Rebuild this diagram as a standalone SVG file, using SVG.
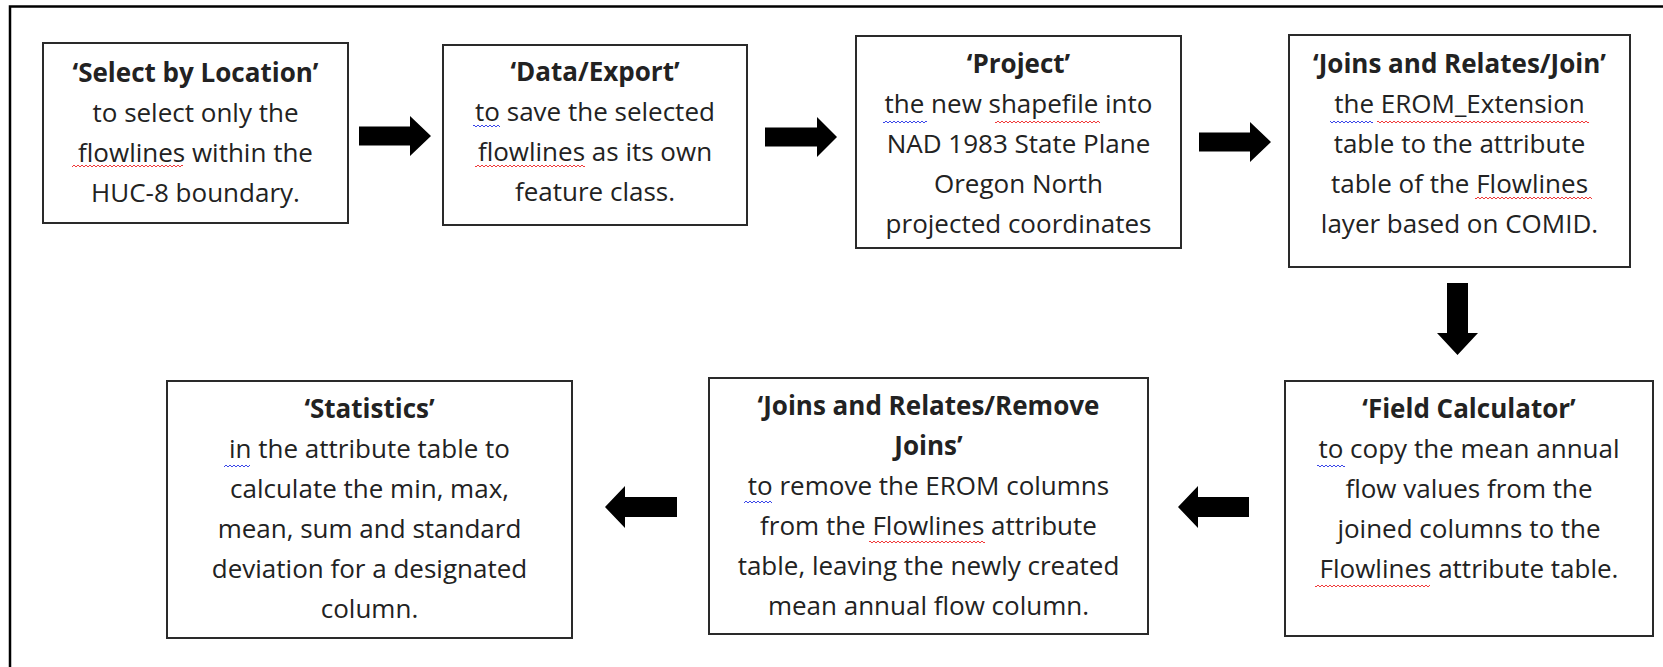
<svg xmlns="http://www.w3.org/2000/svg" width="1663" height="667" viewBox="0 0 1663 667">
<style>
.box{fill:#fff;stroke:#2a2a2a;stroke-width:2}
.t{font-family:"Open Sans","Liberation Sans",sans-serif;font-size:26px;fill:#222;text-anchor:middle}
.b{font-weight:bold}
.arr{fill:#000}
</style>
<defs>
<pattern id="red" width="4" height="4" patternUnits="userSpaceOnUse"><path d="M0,3 L2,1 L4,3" fill="none" stroke="#f03a3a" stroke-width="1"/></pattern>
<pattern id="blue" width="4" height="4" patternUnits="userSpaceOnUse"><path d="M0,3 L2,1 L4,3" fill="none" stroke="#3a46e8" stroke-width="1"/></pattern>
</defs>
<rect width="1663" height="667" fill="#fff"/>
<path d="M10,667 V6.5 H1663" fill="none" stroke="#000" stroke-width="2.5"/>

<g id="connectors">
<polygon class="arr" points="359,126.5 410,126.5 410,116 431,136 410,156 410,145.5 359,145.5"/>
<polygon class="arr" points="765,127.5 817,127.5 817,117 837,137 817,157 817,146.5 765,146.5"/>
<polygon class="arr" points="1199,132.5 1250,132.5 1250,122 1271,142 1250,162 1250,151.5 1199,151.5"/>
<polygon class="arr" points="1447,283 1468,283 1468,333 1478,333 1457.5,355 1437,333 1447,333"/>
<polygon class="arr" points="1249,497 1198,497 1198,486 1178,507 1198,528 1198,517 1249,517"/>
<polygon class="arr" points="677,497 625,497 625,486 605,507 625,528 625,517 677,517"/>
</g>

<g id="n1">
<rect class="box" x="43" y="43" width="305" height="180"/>
<text class="t" x="195.5" y="82"><tspan class="b">‘Select by Location’</tspan><tspan x="195.5" dy="40">to select only the</tspan><tspan x="195.5" dy="40">flowlines within the</tspan><tspan x="195.5" dy="40">HUC-8 boundary.</tspan></text>
<rect x="72" y="164" width="111" height="4" fill="url(#red)"/>
</g>

<g id="n2">
<rect class="box" x="443" y="45" width="304" height="180"/>
<text class="t" x="595" y="81"><tspan class="b">‘Data/Export’</tspan><tspan x="595" dy="40">to save the selected</tspan><tspan x="595" dy="40">flowlines as its own</tspan><tspan x="595" dy="40">feature class.</tspan></text>
<rect x="473" y="124" width="27" height="4" fill="url(#blue)"/>
<rect x="475" y="164" width="110" height="4" fill="url(#red)"/>
</g>

<g id="n3">
<rect class="box" x="856" y="36" width="325" height="212"/>
<text class="t" x="1018.5" y="73"><tspan class="b">‘Project’</tspan><tspan x="1018.5" dy="40">the new shapefile into</tspan><tspan x="1018.5" dy="40">NAD 1983 State Plane</tspan><tspan x="1018.5" dy="40">Oregon North</tspan><tspan x="1018.5" dy="40">projected coordinates</tspan></text>
<rect x="883" y="120" width="44" height="4" fill="url(#blue)"/>
<rect x="995" y="120" width="105" height="4" fill="url(#red)"/>
</g>

<g id="n4">
<rect class="box" x="1289" y="35" width="341" height="232"/>
<text class="t" x="1459.5" y="73"><tspan class="b">‘Joins and Relates/Join’</tspan><tspan x="1459.5" dy="40">the EROM_Extension</tspan><tspan x="1459.5" dy="40">table to the attribute</tspan><tspan x="1459.5" dy="40">table of the Flowlines</tspan><tspan x="1459.5" dy="40">layer based on COMID.</tspan></text>
<rect x="1330" y="120" width="43" height="4" fill="url(#blue)"/>
<rect x="1377" y="120" width="212" height="4" fill="url(#red)"/>
<rect x="1475" y="196" width="117" height="4" fill="url(#red)"/>
</g>

<g id="n5">
<rect class="box" x="1285" y="381" width="368" height="255"/>
<text class="t" x="1469" y="418"><tspan class="b">‘Field Calculator’</tspan><tspan x="1469" dy="40">to copy the mean annual</tspan><tspan x="1469" dy="40">flow values from the</tspan><tspan x="1469" dy="40">joined columns to the</tspan><tspan x="1469" dy="40">Flowlines attribute table.</tspan></text>
<rect x="1317" y="464" width="28" height="4" fill="url(#blue)"/>
<rect x="1315" y="584" width="115" height="4" fill="url(#red)"/>
</g>

<g id="n6">
<rect class="box" x="709" y="378" width="439" height="256"/>
<text class="t" x="928.5" y="415"><tspan class="b">‘Joins and Relates/Remove</tspan><tspan class="b" x="928.5" dy="40">Joins’</tspan><tspan x="928.5" dy="40">to remove the EROM columns</tspan><tspan x="928.5" dy="40">from the Flowlines attribute</tspan><tspan x="928.5" dy="40">table, leaving the newly created</tspan><tspan x="928.5" dy="40">mean annual flow column.</tspan></text>
<rect x="744" y="500" width="28" height="4" fill="url(#blue)"/>
<rect x="869" y="540" width="116" height="4" fill="url(#red)"/>
</g>

<g id="n7">
<rect class="box" x="167" y="381" width="405" height="257"/>
<text class="t" x="369.5" y="418"><tspan class="b">‘Statistics’</tspan><tspan x="369.5" dy="40">in the attribute table to</tspan><tspan x="369.5" dy="40">calculate the min, max,</tspan><tspan x="369.5" dy="40">mean, sum and standard</tspan><tspan x="369.5" dy="40">deviation for a designated</tspan><tspan x="369.5" dy="40">column.</tspan></text>
<rect x="224" y="464" width="26" height="4" fill="url(#blue)"/>
</g>
</svg>
